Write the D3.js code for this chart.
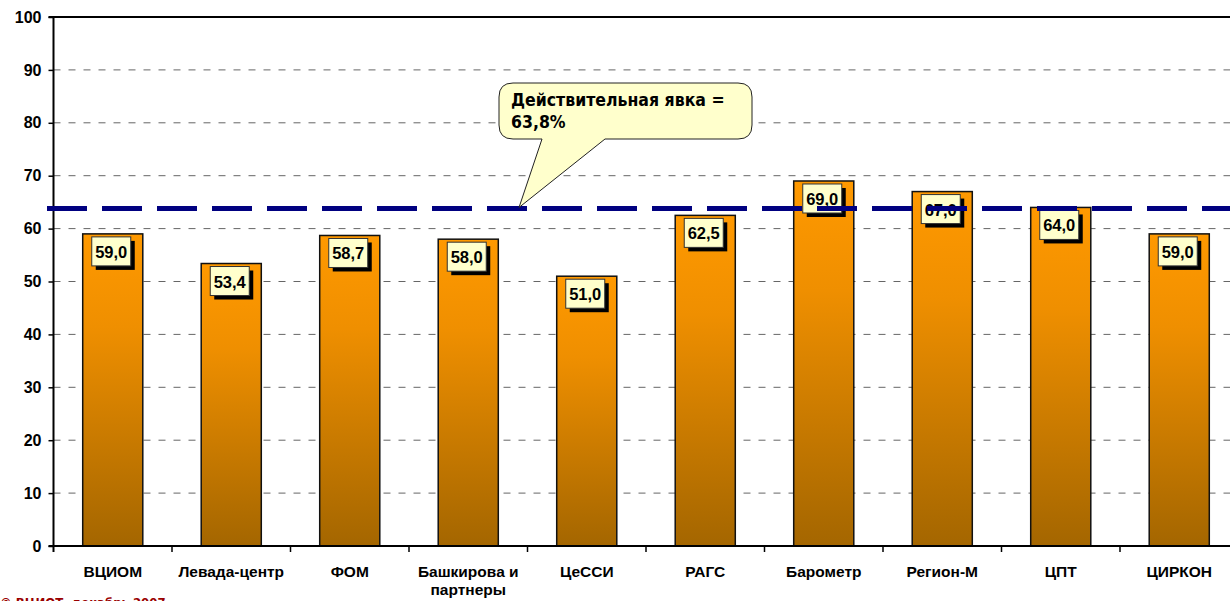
<!DOCTYPE html>
<html><head><meta charset="utf-8">
<script src="https://cdn.jsdelivr.net/npm/d3@7"></script>
<style>html,body{margin:0;padding:0;background:#fff;overflow:hidden}</style>
</head><body>
<svg id="c" width="1230" height="601"></svg>
<script>
const categories = ["ВЦИОМ","Левада-центр","ФОМ","Башкирова и\nпартнеры","ЦеССИ","РАГС","Барометр","Регион-М","ЦПТ","ЦИРКОН"];
const values = [59.0,53.4,58.7,58.0,51.0,62.5,69.0,67.0,64.0,59.0];
const yTicks = [0,10,20,30,40,50,60,70,80,90,100];
const actualTurnout = 63.8;
const calloutLines = ["Действительная явка =","63,8%"];
const footnote = "© ВЦИОТ, декабрь 2007";

const svg = d3.select("#c");
const L = 53.5, R = 1238.5, T = 17, B = 546;
const x = d3.scaleBand().domain(categories).range([L,R]).paddingInner(0.493).paddingOuter(0.2465);
const y = d3.scaleLinear().domain([0,100]).range([B,T]);
const fmt = v => v.toFixed(1).replace(".", ",");

const defs = svg.append("defs");
const g = defs.append("linearGradient").attr("id","barg").attr("x1",0).attr("y1",0).attr("x2",0).attr("y2",1);
g.append("stop").attr("offset","0%").attr("stop-color","#FF9900");
g.append("stop").attr("offset","30%").attr("stop-color","#EF8F00");
g.append("stop").attr("offset","100%").attr("stop-color","#A46600");

// gridlines
svg.append("g").selectAll("line").data(yTicks.filter(t=>t>0 && t<100)).join("line")
  .attr("x1",L).attr("x2",1230).attr("y1",d=>y(d)).attr("y2",d=>y(d))
  .attr("stroke","#666").attr("stroke-width",1).attr("stroke-dasharray","7,8");
// top border
svg.append("line").attr("x1",L).attr("x2",1230).attr("y1",y(100)).attr("y2",y(100)).attr("stroke","#000").attr("stroke-width",2);

// bars
svg.append("g").selectAll("rect").data(values).join("rect")
  .attr("x",(d,i)=>x(categories[i])).attr("width",x.bandwidth())
  .attr("y",d=>y(d)).attr("height",d=>B-y(d))
  .attr("fill","url(#barg)").attr("stroke","#111").attr("stroke-width",1.5);

// y axis
const ya = svg.append("g").attr("transform",`translate(${L},0)`)
  .call(d3.axisLeft(y).tickValues(yTicks).tickSize(5).tickPadding(7));
ya.select(".domain").attr("stroke","#000").attr("stroke-width",2).attr("d",`M-5,${T}H0V${B}`);
ya.selectAll(".tick line").attr("stroke","#000").attr("stroke-width",1.5);
ya.selectAll("text").attr("font-family","Liberation Sans, Arial, sans-serif").attr("font-weight","bold").attr("font-size","16px").attr("fill","#000");

// x axis line + ticks at band boundaries
svg.append("line").attr("x1",L-5).attr("x2",1230).attr("y1",B).attr("y2",B).attr("stroke","#000").attr("stroke-width",2);
const bounds = categories.map((c,i)=>L + i*x.step());
svg.append("g").selectAll("line").data(bounds.slice(1)).join("line")
  .attr("x1",d=>d).attr("x2",d=>d).attr("y1",B).attr("y2",B+6).attr("stroke","#000").attr("stroke-width",1.5);
svg.append("line").attr("x1",L).attr("x2",L).attr("y1",B).attr("y2",B+6).attr("stroke","#000").attr("stroke-width",2);

// x labels
const xl = svg.append("g").selectAll("text").data(categories).join("text")
  .attr("x",d=>x(d)+x.bandwidth()/2).attr("y",577)
  .attr("text-anchor","middle").attr("font-family","Liberation Sans, Arial, sans-serif")
  .attr("font-weight","bold").attr("font-size","15.5px").attr("fill","#000");
xl.each(function(d){
  const parts = d.split("\n");
  d3.select(this).selectAll("tspan").data(parts).join("tspan")
    .attr("x",x(d)+x.bandwidth()/2).attr("dy",(p,j)=>j?18:0).text(p=>p);
});

// value labels
const lab = svg.append("g").selectAll("g").data(values).join("g")
  .attr("transform",(d,i)=>`translate(${x(categories[i])+x.bandwidth()/2-21},${y(d)+3})`);
lab.append("rect").attr("x",4).attr("y",4).attr("width",39).attr("height",29).attr("fill","#000");
lab.append("rect").attr("x",0).attr("y",0).attr("width",39).attr("height",29).attr("fill","#FFFFCC").attr("stroke","#333").attr("stroke-width",1);
lab.append("text").attr("x",19.5).attr("y",21).attr("text-anchor","middle")
  .attr("font-family","Liberation Sans, Arial, sans-serif").attr("font-weight","bold").attr("font-size","16.5px")
  .attr("fill","#000").text(d=>fmt(d));

// actual turnout line
svg.append("line").attr("x1",47).attr("x2",1230).attr("y1",y(actualTurnout)).attr("y2",y(actualTurnout))
  .attr("stroke","#000080").attr("stroke-width",5).attr("stroke-dasharray","40,15");

// callout
const cx0=499, cx1=752, cy0=83, cy1=139, r=14;
const tipX=519, tipY=y(actualTurnout)-1, b1=542, b2=605;
const p = `M${cx0+r},${cy0} H${cx1-r} Q${cx1},${cy0} ${cx1},${cy0+r} V${cy1-r} Q${cx1},${cy1} ${cx1-r},${cy1} H${b2} L${tipX},${tipY} L${b1},${cy1} H${cx0+r} Q${cx0},${cy1} ${cx0},${cy1-r} V${cy0+r} Q${cx0},${cy0} ${cx0+r},${cy0} Z`;
svg.append("path").attr("d",p).attr("fill","#FFFFCC").attr("stroke","#222").attr("stroke-width",1);
svg.append("g").selectAll("text").data(calloutLines).join("text")
  .attr("x",511).attr("y",(d,i)=>106+i*22)
  .attr("font-family","DejaVu Sans Condensed, DejaVu Sans, sans-serif").attr("font-weight","bold").attr("font-size","17.5px")
  .attr("fill","#000").text(d=>d);

// footnote
svg.append("text").attr("x",0).attr("y",607).attr("font-family","DejaVu Sans Condensed, DejaVu Sans, sans-serif")
  .attr("font-weight","bold").attr("font-size","13px").attr("fill","#990000").text(footnote);
</script>
</body></html>
